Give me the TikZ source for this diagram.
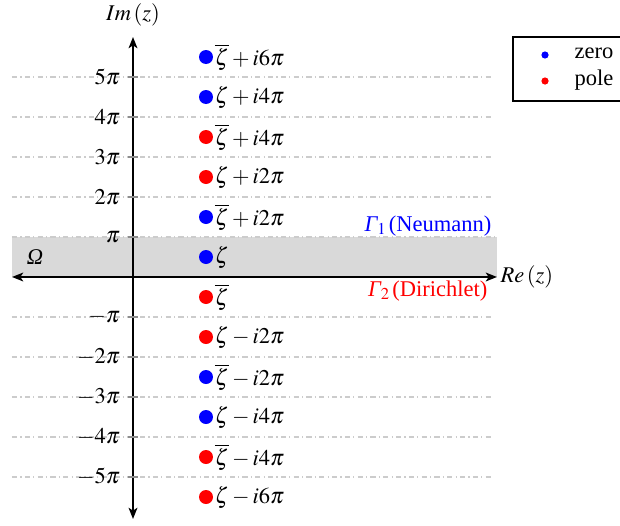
\documentclass[tikz,border=0pt]{standalone}
\usepackage{mathptmx}
\usepackage{fontspec}
\setmainfont{Liberation Serif}
\usetikzlibrary{positioning,arrows.meta}
\begin{document}
\begin{tikzpicture}[
zero/.style={circle,fill=blue,inner sep=0pt,minimum size=0.35cm},
pole/.style={circle,fill=red,inner sep=0pt,minimum size=0.35cm},
lbl/.style={inner sep=1pt,font=\fontsize{16}{19}\selectfont},
tick/.style={draw=gray!90,line width=2pt},
grid/.style={gray!40,line width=0.9pt,dash pattern=on 0.13cm off 0.08cm on 0.03cm off 0.08cm},
axis/.style={line width=1.1pt,{Stealth[length=0.28cm,width=0.22cm,inset=0.07cm]}-{Stealth[length=0.28cm,width=0.22cm,inset=0.07cm]}}
]
\useasboundingbox (-3.325,-6.2) rectangle (12.175,6.925);
% strip Omega
\fill[gray!30] (-3.025,0) rectangle (9.1,1);
% dash-dot lines
\foreach \k in {-5,...,-1,2,3,...,5}
\draw[grid] (-3.025,\k) -- (8.975,\k);
\draw[grid] (-3.025,1) -- (9.1,1);
% axes
\coordinate (xl) at (-3.025,0);
\coordinate (xr) at (9.1,0);
\coordinate (yb) at (0,-6.05);
\coordinate (yt) at (0,6);
\draw[axis] (xl) -- (xr);
\draw[axis] (yb) -- (yt);
\node[lbl,anchor=west] (re) at (9.15,0) {$Re\left(z\right)$};
\node[lbl] (im) at (0,6.55) {$Im\left(z\right)$};
% ticks
\foreach \k/\t in {5/5\pi,4/4\pi,3/3\pi,2/2\pi,1/\pi,-1/-\pi,-2/-2\pi,-3/-3\pi,-4/-4\pi,-5/-5\pi}{
\draw[tick] (-0.12,\k) -- (0.12,\k);
\node[lbl,anchor=east] at (-0.28,\k) {$\t$};
}
\node[lbl] (omega) at (-2.45,0.5) {\itshape Ω};
\node[lbl,text=blue,anchor=south east] (gamma1) at (9.0,0.98) {{\itshape Γ}$_1\,$(Neumann)};
\node[lbl,text=red,anchor=north east] (gamma2) at (8.9,-0.05) {{\itshape Γ}$_2\,$(Dirichlet)};
% zeros and poles
\node[zero] (p1) at (1.825,5.5) {};
\node[lbl,right=0pt of p1] {$\overline{\zeta}+i6\pi$};
\node[zero] (p2) at (1.825,4.5) {};
\node[lbl,right=0pt of p2] {$\zeta+i4\pi$};
\node[pole] (p3) at (1.825,3.5) {};
\node[lbl,right=0pt of p3] {$\overline{\zeta}+i4\pi$};
\node[pole] (p4) at (1.825,2.5) {};
\node[lbl,right=0pt of p4] {$\zeta+i2\pi$};
\node[zero] (p5) at (1.825,1.5) {};
\node[lbl,right=0pt of p5] {$\overline{\zeta}+i2\pi$};
\node[zero] (p6) at (1.825,0.5) {};
\node[lbl,right=0pt of p6] {$\zeta$};
\node[pole] (p7) at (1.825,-0.5) {};
\node[lbl,right=0pt of p7] {$\overline{\zeta}$};
\node[pole] (p8) at (1.825,-1.5) {};
\node[lbl,right=0pt of p8] {$\zeta-i2\pi$};
\node[zero] (p9) at (1.825,-2.5) {};
\node[lbl,right=0pt of p9] {$\overline{\zeta}-i2\pi$};
\node[zero] (p10) at (1.825,-3.5) {};
\node[lbl,right=0pt of p10] {$\zeta-i4\pi$};
\node[pole] (p11) at (1.825,-4.5) {};
\node[lbl,right=0pt of p11] {$\overline{\zeta}-i4\pi$};
\node[pole] (p12) at (1.825,-5.5) {};
\node[lbl,right=0pt of p12] {$\zeta-i6\pi$};
% legend
\draw[line width=1.3pt] (9.5,4.4) rectangle (12.4,6);
\node[zero,minimum size=0.18cm] (lz) at (10.3,5.55) {};
\node[lbl,anchor=west] at (11.0,5.6) {zero};
\node[pole,minimum size=0.18cm] (lp) at (10.3,4.9) {};
\node[lbl,anchor=west] at (11.0,4.92) {pole};
\end{tikzpicture}
\end{document}
